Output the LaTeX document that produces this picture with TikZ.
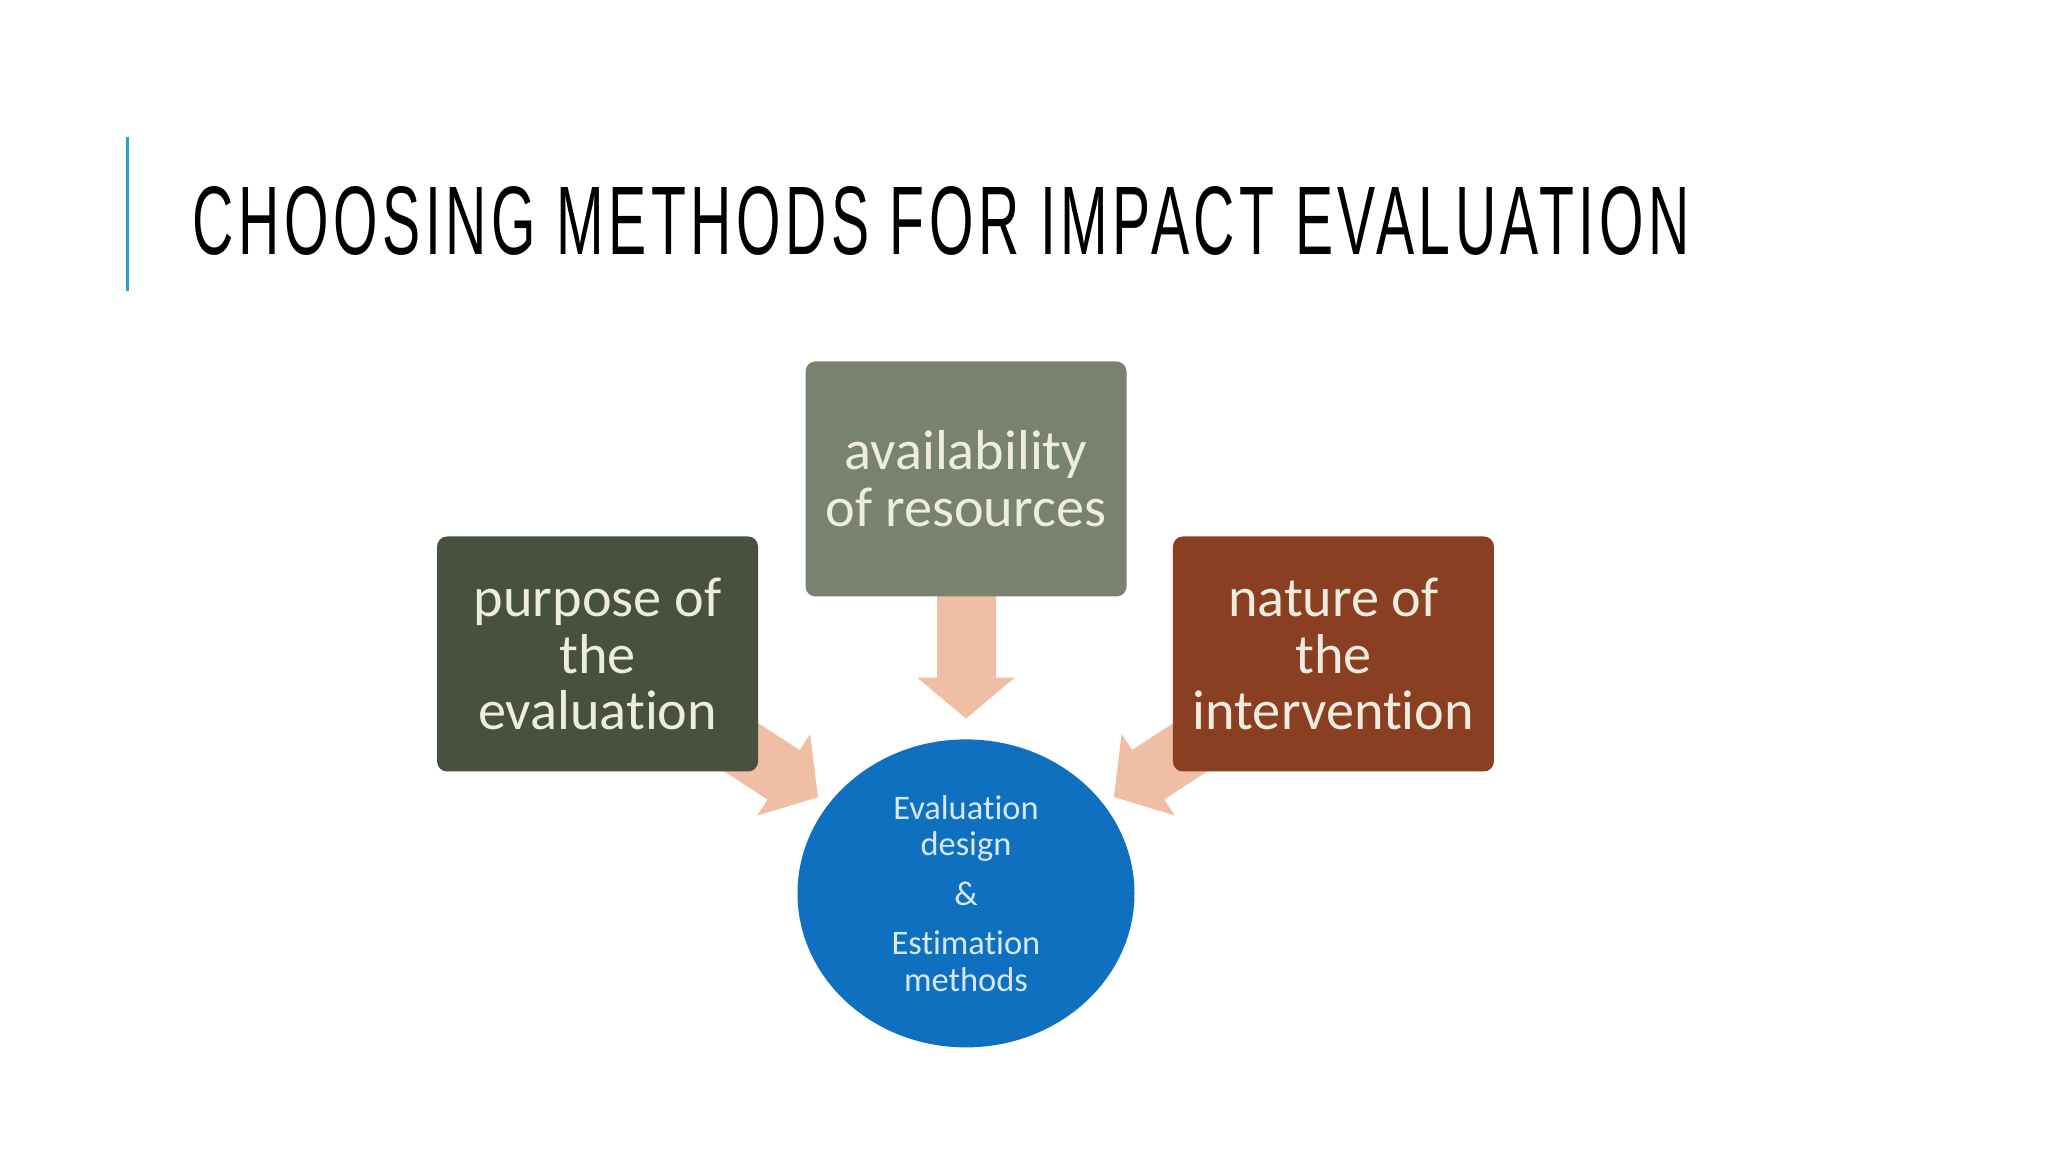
\documentclass[tikz,border=0pt]{standalone}
\usepackage{fontspec}
\setmainfont[Ligatures=NoCommon]{Carlito}
\newfontfamily\titlefont[LetterSpace=8]{Liberation Sans}
\usetikzlibrary{shapes.geometric,arrows.meta,positioning,backgrounds}

\definecolor{accentblue}{RGB}{38,160,218}
\definecolor{purposegreen}{RGB}{72,80,62}
\definecolor{resourcegreen}{RGB}{120,130,108}
\definecolor{naturebrown}{RGB}{138,62,34}
\definecolor{designblue}{RGB}{14,112,190}
\definecolor{boxtext}{RGB}{238,236,222}
\definecolor{designtext}{RGB}{215,232,250}
\definecolor{arrowpeach}{RGB}{239,190,164}

\begin{document}
\begin{tikzpicture}
            % Estilos
            \tikzstyle{factor}=[rectangle, rounded corners=0.1cm, minimum height=2.35cm, minimum width=3.21cm, inner sep=0pt, align=center, text=boxtext, font=\fontsize{16}{16.2}\selectfont]
            \tikzstyle{result}=[ellipse, minimum width=3.37cm, minimum height=3.08cm, inner sep=0pt, fill=designblue, align=center, text=designtext, font=\fontsize{9.8}{10.4}\selectfont]
            \tikzstyle{bigarrow}=[draw=arrowpeach, line width=0.59cm, -{Triangle[width=0.95cm, length=0.41cm]}]

            \useasboundingbox (0,0) rectangle (20.48,11.52);

            % Titulo
            \draw[accentblue, line width=0.03cm] (1.27,10.15) -- (1.27,8.61);
            \node[anchor=base west, inner sep=0pt] (title) at (1.92,8.97) {\resizebox{14.97cm}{0.68cm}{\titlefont CHOOSING METHODS FOR IMPACT EVALUATION}};

            % Nodos
            \node[factor, fill=resourcegreen] (resources) at (9.66,6.73) {availability\\of resources};
            \node[factor, fill=purposegreen, left=0.46cm of resources, yshift=-1.75cm] (purpose) {purpose of\\the\\evaluation};
            \node[factor, fill=naturebrown, right=0.45cm of resources, yshift=-1.75cm] (nature) {nature of\\the\\intervention};
            \node[result, below=1.415cm of resources] (design) {Evaluation\\design\\[3.7pt]\&\\[3.7pt]Estimation\\methods};

            % Flechas
            \begin{scope}[on background layer]
              \draw[bigarrow, shorten >=0.2cm] (resources.center) -- (design);
              \draw[bigarrow, shorten >=0.12cm] (purpose.center) -- (design);
              \draw[bigarrow, shorten >=0.12cm] (nature.center) -- (design);
            \end{scope}
\end{tikzpicture}
\end{document}
